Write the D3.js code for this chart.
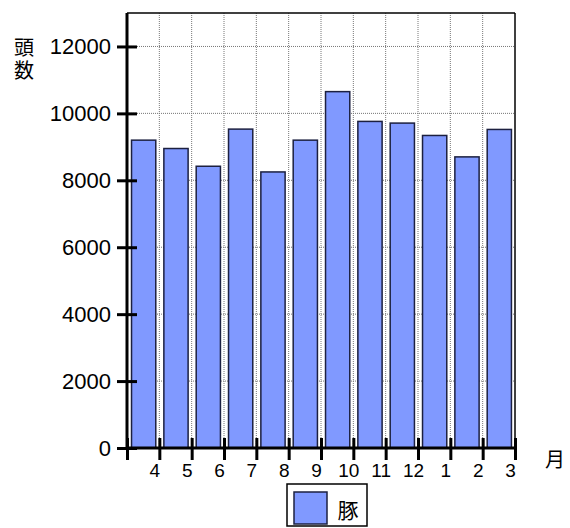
<!DOCTYPE html>
<html>
<head>
<meta charset="utf-8">
<script src="https://cdn.jsdelivr.net/npm/d3@7"></script>
<style>
  body { margin: 0; background: #fff; }
  svg { font-family: 'Liberation Sans', Arial, sans-serif; }
</style>
</head>
<body>
<div id="chart"></div>
<script>
var months = ['4', '5', '6', '7', '8', '9', '10', '11', '12', '1', '2', '3'];
var pigs = [9200, 8950, 8420, 9530, 8250, 9200, 10650, 9760, 9710, 9340, 8700, 9520];
var yTicks = [0, 2000, 4000, 6000, 8000, 10000, 12000];
var seriesName = '豚';
var yTitle = '頭数';
var xTitle = '月';

var width = 570;
var height = 528;
var margin = { top: 13, right: 55, bottom: 80, left: 127 };
var graphWidth = width - margin.left - margin.right;
var graphHeight = height - margin.top - margin.bottom;

var svg = d3
  .select('#chart')
  .append('svg')
  .attr('width', width)
  .attr('height', height);

var graph = svg
  .append('g')
  .attr('transform', 'translate(' + margin.left + ',' + margin.top + ')');

var x = d3.scaleBand().domain(months).range([0, graphWidth]).padding(0);
var xEdge = d3.scaleLinear().domain([0, months.length]).range([0, graphWidth]);
var y = d3.scaleLinear().domain([0, 13000]).range([graphHeight, 0]);

// grid
graph
  .append('g')
  .selectAll('line.hgrid')
  .data(yTicks.slice(1))
  .enter()
  .append('line')
  .attr('x1', 0)
  .attr('x2', graphWidth)
  .attr('y1', d => y(d))
  .attr('y2', d => y(d))
  .attr('stroke', '#777')
  .attr('stroke-width', 1)
  .attr('stroke-dasharray', '1,1');

graph
  .append('g')
  .selectAll('line.vgrid')
  .data(d3.range(1, months.length))
  .enter()
  .append('line')
  .attr('x1', d => xEdge(d))
  .attr('x2', d => xEdge(d))
  .attr('y1', 0)
  .attr('y2', graphHeight)
  .attr('stroke', '#777')
  .attr('stroke-width', 1)
  .attr('stroke-dasharray', '1,1');

// top and right border
graph.append('line')
  .attr('x1', 0).attr('x2', graphWidth).attr('y1', 0).attr('y2', 0)
  .attr('stroke', '#000').attr('stroke-width', 1.5);
graph.append('line')
  .attr('x1', graphWidth).attr('x2', graphWidth).attr('y1', 0).attr('y2', graphHeight)
  .attr('stroke', '#000').attr('stroke-width', 1.5);

// bars
var bw = x.bandwidth();
graph
  .selectAll('rect.bar')
  .data(pigs)
  .enter()
  .append('rect')
  .attr('class', 'bar')
  .attr('x', (d, i) => x(months[i]) + bw * 0.14)
  .attr('y', d => y(d))
  .attr('width', bw * 0.75)
  .attr('height', d => graphHeight - y(d))
  .attr('fill', '#8099ff')
  .attr('stroke', '#1c2040')
  .attr('stroke-width', 1.5);

// y axis
var yAxis = d3.axisLeft(y).tickValues(yTicks).tickFormat(d3.format('d')).tickSize(10).tickPadding(6);
var yAxisGroup = graph.append('g').call(yAxis);
yAxisGroup.select('.domain').remove();
yAxisGroup.selectAll('.tick line').attr('x2', 10).attr('x1', -10).attr('stroke', '#000').attr('stroke-width', 3);
yAxisGroup.selectAll('.tick text')
  .attr('x', -16)
  .attr('fill', '#000')
  .style('font-size', '22px')
  .style('font-family', "'Liberation Sans', Arial, sans-serif");
graph.append('line')
  .attr('x1', 0).attr('x2', 0).attr('y1', 0).attr('y2', graphHeight)
  .attr('stroke', '#000').attr('stroke-width', 3);

// x axis
var xAxis = d3
  .axisBottom(xEdge)
  .tickValues(d3.range(0, months.length + 1))
  .tickFormat(i => (i === 0 ? '' : months[i - 1]))
  .tickSize(12)
  .tickPadding(4);
var xAxisGroup = graph
  .append('g')
  .attr('transform', 'translate(0,' + graphHeight + ')')
  .call(xAxis);
xAxisGroup.select('.domain').remove();
xAxisGroup.selectAll('.tick line').attr('y1', -10).attr('y2', 12).attr('stroke', '#000').attr('stroke-width', 3);
xAxisGroup.selectAll('.tick text')
  .attr('dx', -5)
  .attr('fill', '#000')
  .style('font-size', '19px')
  .style('font-family', "'Liberation Sans', Arial, sans-serif");
graph.append('line')
  .attr('x1', 0).attr('x2', graphWidth).attr('y1', graphHeight).attr('y2', graphHeight)
  .attr('stroke', '#000').attr('stroke-width', 3);

// axis titles (vertical)
svg
  .append('text')
  .attr('x', 24)
  .attr('y', 37)
  .style('writing-mode', 'vertical-rl')
  .style('letter-spacing', '3px')
  .style('font-size', '20px')
  .style('font-family', "'Noto Sans CJK JP', sans-serif")
  .text(yTitle);

svg
  .append('text')
  .attr('x', 555)
  .attr('y', 467)
  .attr('text-anchor', 'middle')
  .style('font-size', '20px')
  .style('font-family', "'Noto Sans CJK JP', sans-serif")
  .text(xTitle);

// legend
var legend = svg.append('g').attr('transform', 'translate(287,484)');
legend.append('rect')
  .attr('width', 80).attr('height', 42)
  .attr('fill', '#fff').attr('stroke', '#000').attr('stroke-width', 1.5);
legend.append('rect')
  .attr('x', 7).attr('y', 8).attr('width', 33).attr('height', 32)
  .attr('fill', '#8099ff').attr('stroke', '#1c2040').attr('stroke-width', 1.5);
legend.append('text')
  .attr('x', 61).attr('y', 34)
  .attr('text-anchor', 'middle')
  .style('font-size', '21px')
  .style('font-family', "'Noto Sans CJK JP', sans-serif")
  .text(seriesName);
</script>
</body>
</html>
